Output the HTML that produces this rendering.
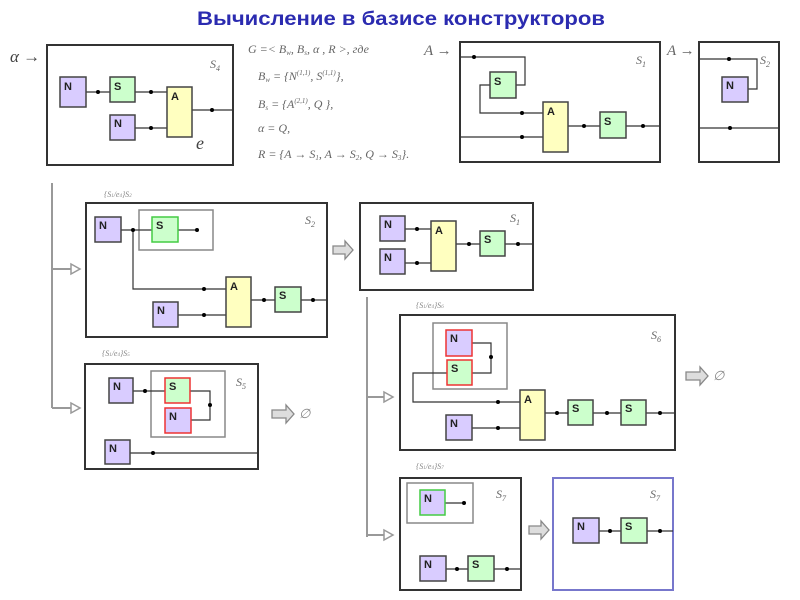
<!DOCTYPE html>
<html><head><meta charset="utf-8"><style>
html,body{margin:0;padding:0;background:#fff;width:800px;height:600px;overflow:hidden}
svg{display:block}
.b{fill:none;stroke:#333;stroke-width:2}
.g{fill:none;stroke:#888;stroke-width:1.5}
.w{fill:none;stroke:#333;stroke-width:1.2}
.n{fill:#d9ccff;stroke:#444;stroke-width:1.5}
.s{fill:#ccffcc;stroke:#444;stroke-width:1.5}
.a{fill:#ffffc0;stroke:#444;stroke-width:1.5}
.lt{font-family:"Liberation Sans",sans-serif;font-weight:bold;font-size:11px;fill:#222}
.m{font-family:"Liberation Serif",serif;font-style:italic;font-size:12px;fill:#666}
.sm{font-family:"Liberation Serif",serif;font-style:italic;font-size:8px;fill:#888}
.gl{fill:none;stroke:#999;stroke-width:2}
.ha{fill:#ddd;stroke:#888;stroke-width:1.3}
</style></head><body>
<svg width="800" height="600" viewBox="0 0 800 600" xmlns="http://www.w3.org/2000/svg">
<text x="401" y="25" text-anchor="middle" font-family="Liberation Sans,sans-serif" font-weight="bold" font-size="19" fill="#2b2bb0" textLength="408" lengthAdjust="spacingAndGlyphs">Вычисление в базисе конструкторов</text>

<!-- top-left S4 -->
<text x="10" y="62" class="m" style="font-size:17px;fill:#444">α →</text>
<rect x="47" y="45" width="186" height="120" class="b"/>
<text x="210" y="68" class="m">S<tspan font-size="8" dy="3">4</tspan></text>
<path class="w" d="M86 92H110M135 92H167M135 128H167M192 110H233"/>
<rect x="60" y="77" width="26" height="30" class="n"/><text x="64" y="90" class="lt">N</text>
<rect x="110" y="77" width="25" height="25" class="s"/><text x="114" y="90" class="lt">S</text>
<rect x="110" y="115" width="25" height="25" class="n"/><text x="114" y="127" class="lt">N</text>
<rect x="167" y="87" width="25" height="50" class="a"/><text x="171" y="100" class="lt">A</text>
<circle cx="98" cy="92" r="2"/><circle cx="151" cy="92" r="2"/><circle cx="151" cy="128" r="2"/><circle cx="212" cy="110" r="2"/>
<text x="196" y="149" class="m" style="font-size:18px;fill:#444">e</text>

<!-- formulas -->
<g class="m">
<text x="248" y="53">G =&lt; B<tspan font-size="7" dy="2">w</tspan><tspan dy="-2">, B</tspan><tspan font-size="7" dy="2">s</tspan><tspan dy="-2">, α , R &gt;, где</tspan></text>
<text x="258" y="80">B<tspan font-size="7" dy="2">w</tspan><tspan dy="-2"> = {N</tspan><tspan font-size="7" dy="-5">(1,1)</tspan><tspan dy="5">, S</tspan><tspan font-size="7" dy="-5">(1,1)</tspan><tspan dy="5">},</tspan></text>
<text x="258" y="108">B<tspan font-size="7" dy="2">s</tspan><tspan dy="-2"> = {A</tspan><tspan font-size="7" dy="-5">(2,1)</tspan><tspan dy="5">, Q },</tspan></text>
<text x="258" y="132">α = Q,</text>
<text x="258" y="158">R = {A → S<tspan font-size="7" dy="2">1</tspan><tspan dy="-2">, A → S</tspan><tspan font-size="7" dy="2">2</tspan><tspan dy="-2">, Q → S</tspan><tspan font-size="7" dy="2">3</tspan><tspan dy="-2">}.</tspan></text>
</g>
<text x="424" y="55" class="m" style="font-size:15px">A →</text>
<text x="667" y="55" class="m" style="font-size:15px">A →</text>

<!-- top S1 -->
<rect x="460" y="42" width="200" height="120" class="b"/>
<text x="636" y="64" class="m">S<tspan font-size="8" dy="3">1</tspan></text>
<path class="w" d="M460 57H525V85H516M490 85H480V113H543M460 137H543M568 126H600M626 126H660"/>
<rect x="490" y="72" width="26" height="26" class="s"/><text x="494" y="85" class="lt">S</text>
<rect x="543" y="102" width="25" height="50" class="a"/><text x="547" y="115" class="lt">A</text>
<rect x="600" y="112" width="26" height="26" class="s"/><text x="604" y="125" class="lt">S</text>
<circle cx="474" cy="57" r="2"/><circle cx="522" cy="113" r="2"/><circle cx="522" cy="137" r="2"/><circle cx="584" cy="126" r="2"/><circle cx="643" cy="126" r="2"/>

<!-- top S2 -->
<rect x="699" y="42" width="80" height="120" class="b"/>
<text x="760" y="64" class="m">S<tspan font-size="8" dy="3">2</tspan></text>
<path class="w" d="M699 59H757V89H748M699 128H779"/>
<rect x="722" y="77" width="26" height="25" class="n"/><text x="726" y="89" class="lt">N</text>
<circle cx="729" cy="59" r="2"/><circle cx="730" cy="128" r="2"/>

<!-- left tree -->
<path class="gl" d="M52 183V408M52 269H75M52 408H75"/>
<path d="M71 264L80 269L71 274Z M71 403L80 408L71 413Z" fill="#fff" stroke="#999" stroke-width="1.5"/>

<!-- mid S2 -->
<text x="104" y="197" class="sm">{S<tspan font-size="5">1</tspan>/e<tspan font-size="5">4</tspan>}S<tspan font-size="5">2</tspan></text>
<rect x="86" y="203" width="241" height="134" class="b"/>
<text x="305" y="224" class="m">S<tspan font-size="8" dy="3">2</tspan></text>
<rect x="139" y="210" width="74" height="40" class="g"/>
<path class="w" d="M121 230H152M178 230H197M133 230V289H226M178 315H226M251 300H275M301 300H327"/>
<rect x="95" y="217" width="26" height="25" class="n"/><text x="99" y="229" class="lt">N</text>
<rect x="152" y="217" width="26" height="25" class="s" style="stroke:#4c4"/><text x="156" y="229" class="lt">S</text>
<rect x="153" y="302" width="25" height="25" class="n"/><text x="157" y="314" class="lt">N</text>
<rect x="226" y="277" width="25" height="50" class="a"/><text x="230" y="290" class="lt">A</text>
<rect x="275" y="287" width="26" height="25" class="s"/><text x="279" y="299" class="lt">S</text>
<circle cx="133" cy="230" r="2"/><circle cx="197" cy="230" r="2"/><circle cx="204" cy="289" r="2"/><circle cx="204" cy="315" r="2"/><circle cx="264" cy="300" r="2"/><circle cx="313" cy="300" r="2"/>

<path class="ha" d="M333 246H345V241L353 250L345 259V254H333Z"/>

<!-- mid S1 -->
<rect x="360" y="203" width="173" height="87" class="b"/>
<text x="510" y="222" class="m">S<tspan font-size="8" dy="3">1</tspan></text>
<path class="w" d="M405 229H431M405 263H431M456 244H480M505 244H533"/>
<rect x="380" y="216" width="25" height="25" class="n"/><text x="384" y="228" class="lt">N</text>
<rect x="380" y="249" width="25" height="25" class="n"/><text x="384" y="261" class="lt">N</text>
<rect x="431" y="221" width="25" height="50" class="a"/><text x="435" y="234" class="lt">A</text>
<rect x="480" y="231" width="25" height="25" class="s"/><text x="484" y="243" class="lt">S</text>
<circle cx="417" cy="229" r="2"/><circle cx="417" cy="263" r="2"/><circle cx="469" cy="244" r="2"/><circle cx="518" cy="244" r="2"/>

<!-- S5 -->
<text x="102" y="356" class="sm">{S<tspan font-size="5">1</tspan>/e<tspan font-size="5">4</tspan>}S<tspan font-size="5">5</tspan></text>
<rect x="85" y="364" width="173" height="105" class="b"/>
<text x="236" y="386" class="m">S<tspan font-size="8" dy="3">5</tspan></text>
<rect x="151" y="371" width="74" height="66" class="g"/>
<path class="w" d="M133 391H165M190 391H210V420H191M130 453H258"/>
<rect x="109" y="378" width="24" height="25" class="n"/><text x="113" y="390" class="lt">N</text>
<rect x="165" y="378" width="25" height="25" class="s" style="stroke:#e33"/><text x="169" y="390" class="lt">S</text>
<rect x="165" y="408" width="26" height="25" class="n" style="stroke:#e33"/><text x="169" y="420" class="lt">N</text>
<rect x="105" y="440" width="25" height="24" class="n"/><text x="109" y="452" class="lt">N</text>
<circle cx="145" cy="391" r="2"/><circle cx="210" cy="405" r="2"/><circle cx="153" cy="453" r="2"/>
<path class="ha" d="M272 410H286V405L294 414L286 423V418H272Z"/>
<text x="299" y="418" class="m" style="fill:#888;font-size:13px">∅</text>

<!-- right tree -->
<path class="gl" d="M367 297V537M367 397H388M367 535H388"/>
<path d="M384 392L393 397L384 402Z M384 530L393 535L384 540Z" fill="#fff" stroke="#999" stroke-width="1.5"/>

<!-- S6 -->
<text x="416" y="308" class="sm">{S<tspan font-size="5">1</tspan>/e<tspan font-size="5">4</tspan>}S<tspan font-size="5">6</tspan></text>
<rect x="400" y="315" width="275" height="135" class="b"/>
<text x="651" y="339" class="m">S<tspan font-size="8" dy="3">6</tspan></text>
<rect x="433" y="323" width="74" height="66" class="g"/>
<path class="w" d="M472 343H491V373H472M447 373H413V402H520M472 428H520M545 413H568M593 413H621M646 413H675"/>
<rect x="446" y="330" width="26" height="26" class="n" style="stroke:#e33"/><text x="450" y="342" class="lt">N</text>
<rect x="447" y="360" width="25" height="25" class="s" style="stroke:#e33"/><text x="451" y="372" class="lt">S</text>
<rect x="446" y="415" width="26" height="25" class="n"/><text x="450" y="427" class="lt">N</text>
<rect x="520" y="390" width="25" height="50" class="a"/><text x="524" y="403" class="lt">A</text>
<rect x="568" y="400" width="25" height="25" class="s"/><text x="572" y="412" class="lt">S</text>
<rect x="621" y="400" width="25" height="25" class="s"/><text x="625" y="412" class="lt">S</text>
<circle cx="491" cy="357" r="2"/><circle cx="498" cy="402" r="2"/><circle cx="498" cy="428" r="2"/><circle cx="557" cy="413" r="2"/><circle cx="607" cy="413" r="2"/><circle cx="660" cy="413" r="2"/>
<path class="ha" d="M686 372H700V367L708 376L700 385V380H686Z"/>
<text x="713" y="380" class="m" style="fill:#888;font-size:13px">∅</text>

<!-- S7 -->
<text x="416" y="469" class="sm">{S<tspan font-size="5">1</tspan>/e<tspan font-size="5">4</tspan>}S<tspan font-size="5">7</tspan></text>
<rect x="400" y="478" width="121" height="112" class="b"/>
<text x="496" y="498" class="m">S<tspan font-size="8" dy="3">7</tspan></text>
<rect x="407" y="483" width="66" height="40" class="g"/>
<path class="w" d="M445 503H464M446 569H468M494 569H521"/>
<rect x="420" y="490" width="25" height="25" class="n" style="stroke:#4c4"/><text x="424" y="502" class="lt">N</text>
<rect x="420" y="556" width="26" height="25" class="n"/><text x="424" y="568" class="lt">N</text>
<rect x="468" y="556" width="26" height="25" class="s"/><text x="472" y="568" class="lt">S</text>
<circle cx="464" cy="503" r="2"/><circle cx="457" cy="569" r="2"/><circle cx="507" cy="569" r="2"/>
<path class="ha" d="M529 526H541V521L549 530L541 539V534H529Z"/>

<rect x="553" y="478" width="120" height="112" fill="none" stroke="#77c" stroke-width="2"/>
<text x="650" y="498" class="m">S<tspan font-size="8" dy="3">7</tspan></text>
<path class="w" d="M599 531H621M647 531H673"/>
<rect x="573" y="518" width="26" height="25" class="n"/><text x="577" y="530" class="lt">N</text>
<rect x="621" y="518" width="26" height="25" class="s"/><text x="625" y="530" class="lt">S</text>
<circle cx="610" cy="531" r="2"/><circle cx="660" cy="531" r="2"/>
</svg>
</body></html>
